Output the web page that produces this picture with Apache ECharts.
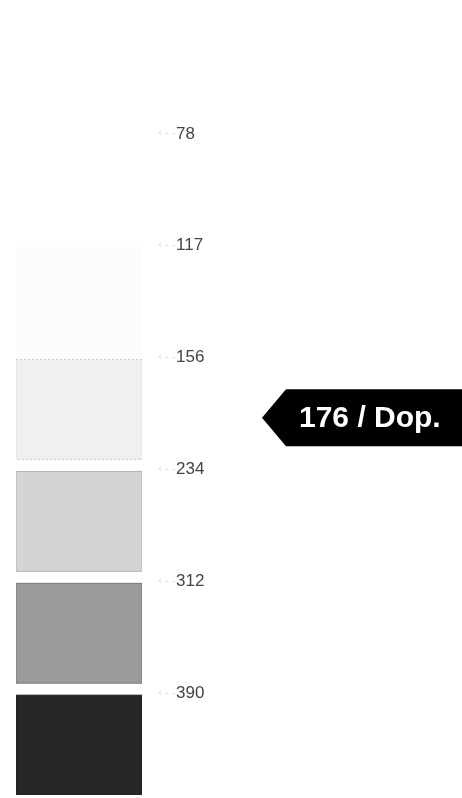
<!DOCTYPE html>
<html>
<head>
<meta charset="utf-8">
<script src="https://cdn.jsdelivr.net/npm/echarts@6/dist/echarts.min.js"></script>
<style>
  html, body { margin: 0; padding: 0; background: #fff; }
  #chart { width: 462px; height: 798px; }
</style>
</head>
<body>
<div id="chart"></div>
<script>
// scale ticks (evenly spaced on the page, uneven in value)
const tickValues = [78, 117, 156, 234, 312, 390];
const tickLabels = ['78', '117', '156', '234', '312', '390'];

// shaded steps: value band and grey tone
const bandFrom  = [117, 156, 234, 312, 390];
const bandTo    = [156, 234, 312, 390, 468];
const bandShade = ['#fcfcfc', '#f0f0f0', '#d4d4d4', '#9b9b9b', '#262626'];
const bandEdge  = ['#fcfcfc', '#c8c8c8', '#b4b4b4', '#7a7a7a', '#1a1a1a'];

// pointer tag
const tagLevel = 198;
const tagText = '176 / Dop.';

// value -> position on the index axis (1 = first tick)
function toIdx(v) {
  for (let i = 0; i < tickValues.length - 1; i++) {
    if (v <= tickValues[i + 1]) {
      return i + 1 + (v - tickValues[i]) / (tickValues[i + 1] - tickValues[i]);
    }
  }
  const n = tickValues.length;
  const step = tickValues[n - 1] - tickValues[n - 2];
  return n + (v - tickValues[n - 1]) / step;
}

const myChart = echarts.init(document.getElementById('chart'));

const option = {
  animation: false,
  backgroundColor: '#fff',
  grid: { left: 16, right: 320, top: 22, bottom: 3 },
  xAxis: { type: 'value', min: 0, max: 1, show: false },
  yAxis: {
    type: 'value',
    inverse: true,
    min: 0,
    max: 6.91,
    interval: 1,
    position: 'right',
    axisLine: { show: false },
    axisTick: { show: false },
    splitLine: { show: false },
    axisLabel: {
      margin: 16,
      showMaxLabel: false,
      formatter: function (val) {
        const lbl = tickLabels[Math.round(val) - 1];
        if (!lbl) return '';
        return '{m|‹ ‐ ‐}{v|' + lbl + '}';
      },
      rich: {
        m: { color: '#d8d8d8', fontSize: 10, fontFamily: 'DejaVu Sans', width: 18 },
        v: { color: '#444', fontSize: 17, fontFamily: 'Liberation Sans' }
      }
    }
  },
  series: [
    {
      name: 'steps',
      type: 'custom',
      clip: true,
      data: bandFrom.map((v, i) => [0, i]),
      renderItem: function (params, api) {
        const i = params.dataIndex;
        const a = api.coord([0, toIdx(bandFrom[i])]);
        const b = api.coord([1, toIdx(bandTo[i])]);
        const inset = i === 0 ? 0 : 10;
        return {
          type: 'rect',
          shape: { x: a[0], y: a[1] + 2, width: b[0] - a[0], height: b[1] - a[1] - inset - 2 },
          style: {
            fill: bandShade[i],
            stroke: bandEdge[i],
            lineWidth: 1,
            lineDash: i === 1 ? [2, 2] : null
          }
        };
      }
    },
    {
      name: 'tag',
      type: 'custom',
      clip: false,
      data: [[1, tagLevel]],
      renderItem: function (params, api) {
        const y = api.coord([1, toIdx(tagLevel)])[1];
        const tip = api.getWidth() - 200;
        const right = api.getWidth();
        const h = 57, notch = 24;
        return {
          type: 'group',
          children: [
            {
              type: 'polygon',
              shape: {
                points: [
                  [tip, y],
                  [tip + notch, y - h / 2],
                  [right, y - h / 2],
                  [right, y + h / 2],
                  [tip + notch, y + h / 2]
                ]
              },
              style: { fill: '#000' }
            },
            {
              type: 'text',
              x: tip + 37,
              y: y + 1,
              style: {
                text: tagText,
                fill: '#fff',
                font: 'bold 30px "Liberation Sans", Arial, sans-serif',
                verticalAlign: 'middle',
                align: 'left'
              }
            }
          ]
        };
      }
    }
  ]
};

myChart.setOption(option);
</script>
</body>
</html>
